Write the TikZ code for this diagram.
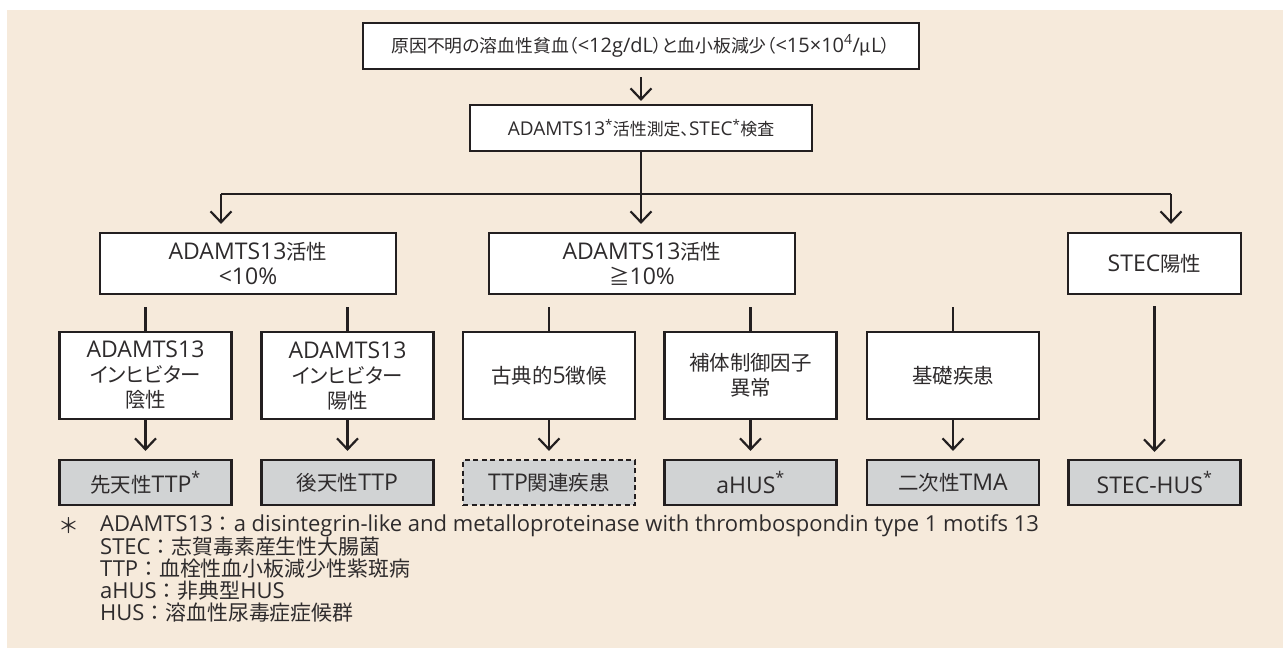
\documentclass[tikz,border=0pt]{standalone}
\usepackage{fontspec}
\setmainfont{Open Sans}
\newfontfamily\jp{Noto Sans CJK JP}[Scale=0.89,RawFeature=+palt]
\newfontfamily\jpf{Noto Sans CJK JP}[Scale=0.95]
\usetikzlibrary{arrows.meta}
\definecolor{bg}{HTML}{F6EADB}
\definecolor{ink}{HTML}{231F20}
\definecolor{txt}{HTML}{2E2B2C}
\definecolor{boxgray}{HTML}{D1D3D4}
\tikzset{
  box/.style={draw=ink, line width=2.2pt, fill=white, align=center, inner sep=0pt,
    font=\fontsize{23}{25}\selectfont, text=txt},
  hbox/.style={box, font=\fontsize{20}{24}\selectfont},
  res/.style={box, fill=boxgray, minimum width=172pt, minimum height=45pt},
  mid/.style={box, minimum width=172pt, minimum height=87pt},
  arr/.style={draw=ink, line width=2.2pt, -{Straight Barb[length=11pt,width=21pt]}},
  ln/.style={draw=ink, line width=2.2pt},
  note/.style={align=left, inner sep=0pt, text=txt, font=\fontsize{22}{22}\selectfont},
}
\begin{document}
\begin{tikzpicture}[x=1pt,y=-1pt]
\useasboundingbox (0,0) rectangle (1283,648);
\fill[bg] (7,10) rectangle (1283,648);

% level 1 and 2
\node[hbox, minimum width=556pt, minimum height=46pt] (top) at (641,46)
  {{\jp 原因不明の溶血性貧血（}<12g/dL{\jp ）と血小板減少（}<15×10\textsuperscript{4}/{\jp μ}L{\jp ）}};
\node[hbox, minimum width=342pt, minimum height=46pt, font=\fontsize{19}{24}\selectfont] (test) at (641,128)
  {ADAMTS13\textsuperscript{*}{\jp 活性測定、}STEC\textsuperscript{*}{\jp 検査}};

% level 3
\node[box, minimum width=296pt, minimum height=61pt] (low) at (248,263.5)
  {ADAMTS13{\jp 活性}\\<10\%};
\node[box, minimum width=306pt, minimum height=61pt] (high) at (642,263.5)
  {ADAMTS13{\jp 活性}\\{\jp ≧}10\%};
\node[box, minimum width=173pt, minimum height=61pt] (stec) at (1154.5,263.5)
  {STEC{\jp 陽性}};

% level 4
\node[mid] (neg) at (145.5,375.5) {ADAMTS13\\{\jp インヒビター}\\{\jp 陰性}};
\node[mid] (pos) at (347.5,375.5) {ADAMTS13\\{\jp インヒビター}\\{\jp 陽性}};
\node[mid] (cls) at (549,375.5) {{\jp 古典的}5{\jp 徴候}};
\node[mid] (cmp) at (750.5,375.5) {{\jp 補体制御因子}\\{\jp 異常}};
\node[mid] (bas) at (953,375.5) {{\jp 基礎疾患}};

% level 5
\node[res] (cttp) at (145.5,482.5) {{\jp 先天性}TTP\textsuperscript{*}};
\node[res] (attp) at (347.5,482.5) {{\jp 後天性}TTP};
\node[res, dashed, dash pattern=on 5pt off 3.5pt] (rttp) at (549,482.5) {TTP{\jp 関連疾患}};
\node[res] (ahus) at (750.5,482.5) {aHUS\textsuperscript{*}};
\node[res] (tma) at (953,482.5) {{\jp 二次性}TMA};
\node[res] (shus) at (1154.5,482.5) {STEC-HUS\textsuperscript{*}};

% connectors
\draw[arr, shorten <=7pt, shorten >=3pt] (top.south) -- (test.north);
\coordinate (bl) at (221,194);
\coordinate (br) at (1171,194);
\draw[ln] (bl) -- (br);
\draw[arr, shorten >=8pt] (test.south) -- (test.south |- high.north);
\draw[arr, shorten >=8pt] (bl) -- (bl |- low.north);
\draw[arr, shorten >=8pt] (br) -- (br |- stec.north);

\foreach \n in {neg,pos}
  \draw[ln] ([yshift=-12pt]\n.north |- low.south) -- (\n.north);
\foreach \n in {cls,cmp,bas}
  \draw[ln] ([yshift=-12pt]\n.north |- high.south) -- (\n.north);
\draw[arr, shorten <=11pt, shorten >=7pt] (stec.south) -- (shus.north);

\draw[arr, shorten >=8pt] (neg.south) -- (cttp.north);
\draw[arr, shorten >=8pt] (pos.south) -- (attp.north);
\draw[arr, shorten >=8pt] (cls.south) -- (rttp.north);
\draw[arr, shorten >=8pt] (cmp.south) -- (ahus.north);
\draw[arr, shorten >=8pt] (bas.south) -- (tma.north);

% footnote
\node[inner sep=0pt, text=txt, font=\fontsize{22}{22}\selectfont] (ast) at (68.5,526) {{\jpf ＊}};
\node[note, anchor=north west] (fn) at (100,514)
  {ADAMTS13{\jpf ：}a disintegrin-like and metalloproteinase with thrombospondin type 1 motifs 13\\
   STEC{\jpf ：志賀毒素産生性大腸菌}\\
   TTP{\jpf ：血栓性血小板減少性紫斑病}\\
   aHUS{\jpf ：非典型}HUS\\
   HUS{\jpf ：溶血性尿毒症症候群}};
\end{tikzpicture}
\end{document}
